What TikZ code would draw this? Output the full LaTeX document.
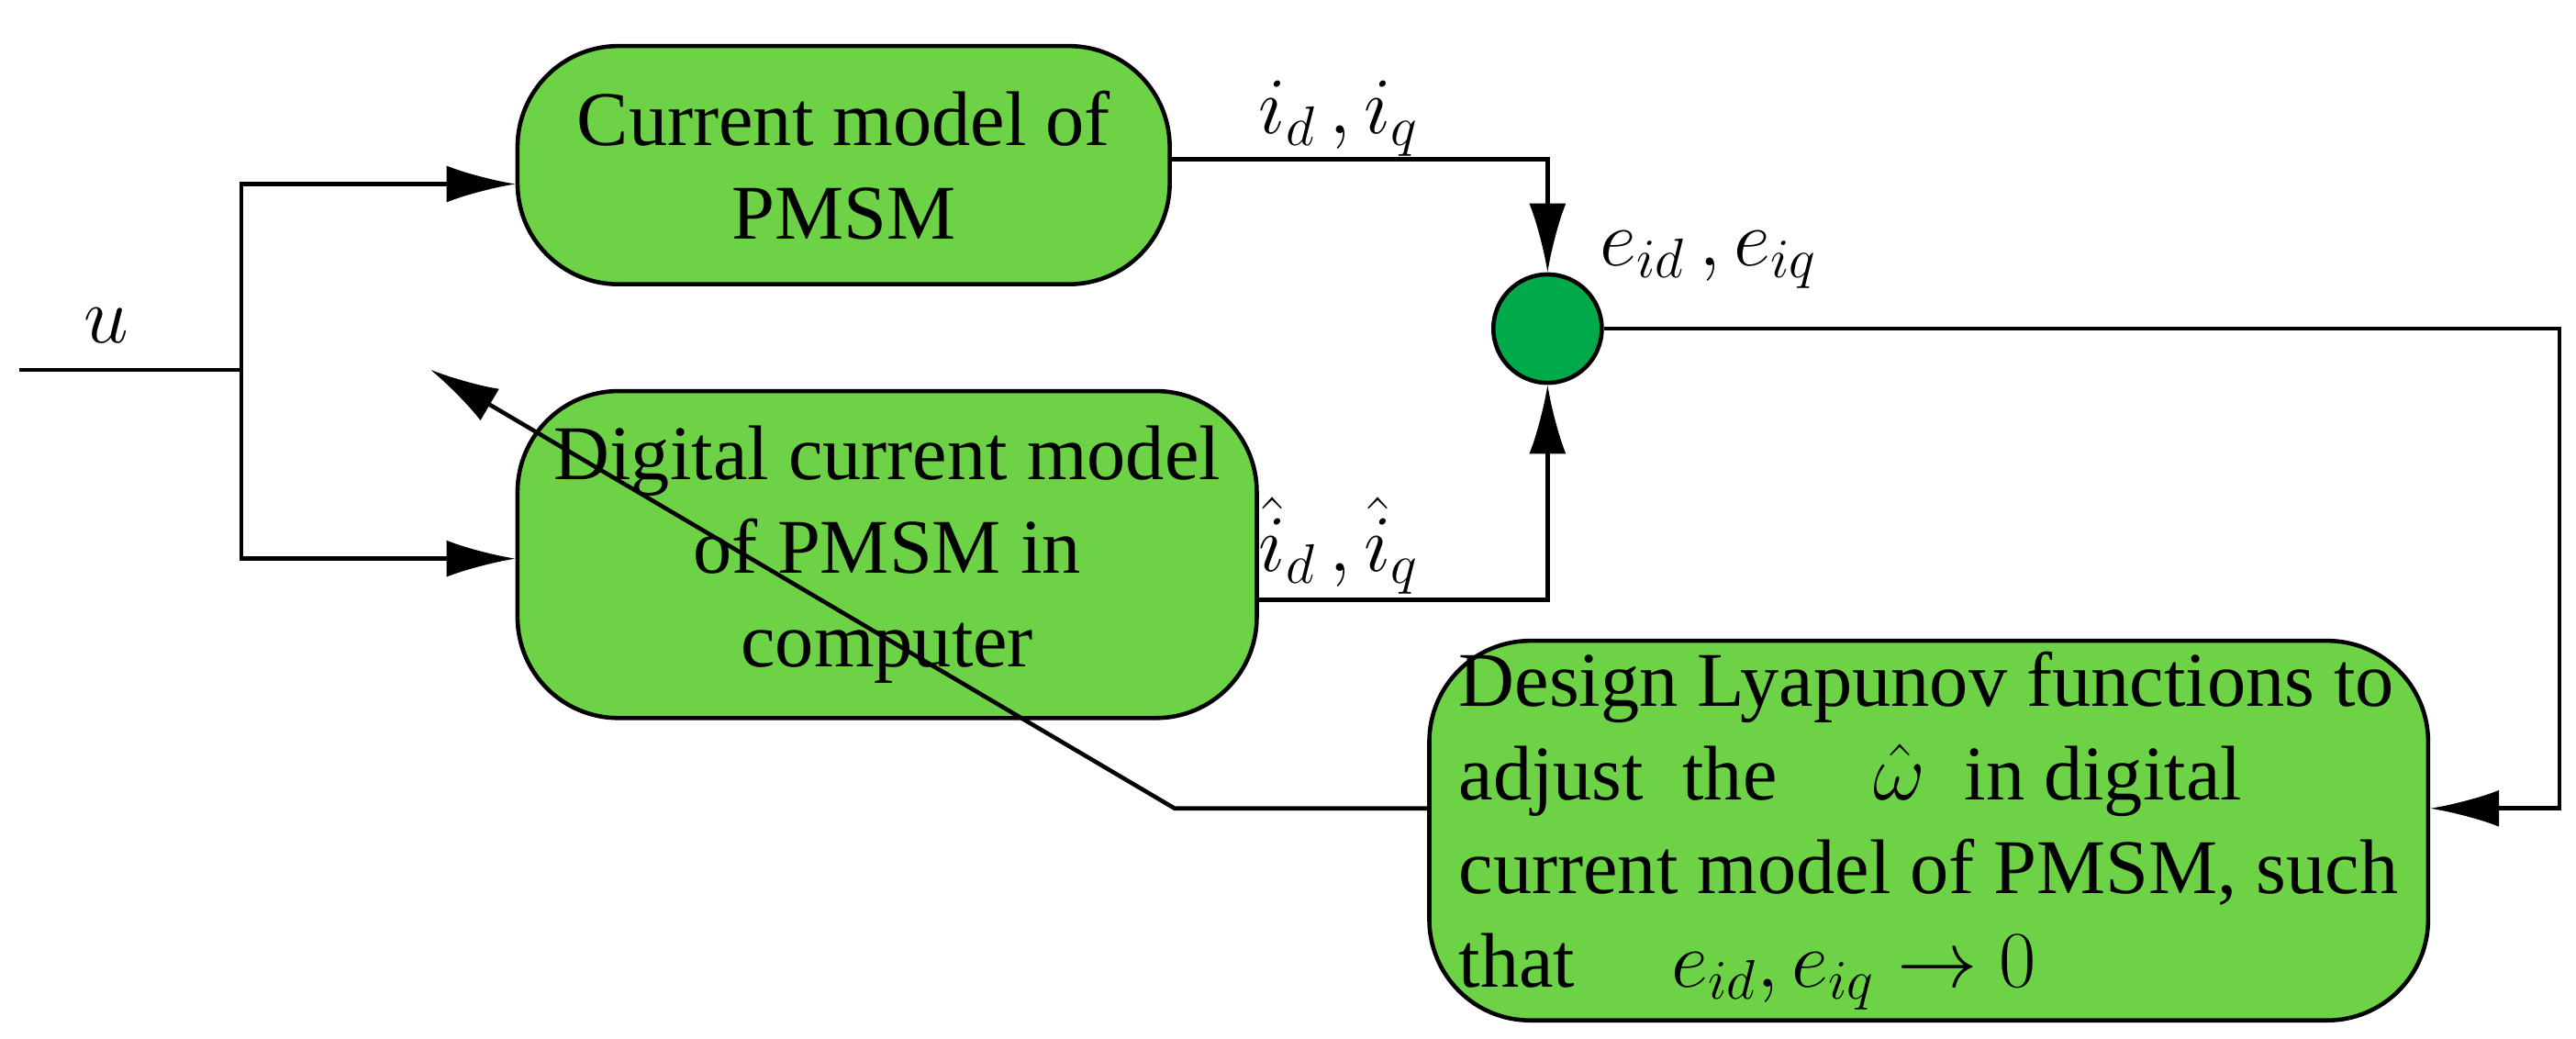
\documentclass[tikz,border=0pt]{standalone}
\usepackage{fontspec}
\setmainfont{Liberation Serif}
\usetikzlibrary{arrows.meta}
\definecolor{boxgreen}{RGB}{110,210,70}
\definecolor{sumgreen}{RGB}{0,170,75}
\tikzset{
  block/.style={draw, line width=1.3pt, fill=boxgreen, rounded corners=1.1cm, align=center, font=\fontsize{24}{29}\selectfont},
  arr/.style={-{Latex[length=0.75cm,width=0.4cm]}, line width=1.3pt},
  lbl/.style={font=\fontsize{26}{30}\selectfont}
}
\begin{document}
\begin{tikzpicture}[x=0.0179cm,y=-0.0179cm]
                \useasboundingbox (0,0) rectangle (1568,632);
                \node[block, minimum width=397*0.0179cm, minimum height=145*0.0179cm] (cur) at (513.5,100.5) {Current model of\\PMSM};
                \node[block, minimum width=450*0.0179cm, minimum height=199*0.0179cm] (dig) at (540,337.5) {Digital current model\\of PMSM in\\computer};
                \node[block, minimum width=608*0.0179cm, minimum height=225*0.0179cm, align=left] (lya) at (1174,505.5) {Design Lyapunov functions to\\adjust\ \ the \quad$\hat{\omega}$\ \ in digital\\current model of PMSM, such\\that \quad $e_{id},e_{iq}\rightarrow 0$};
                \node[circle, draw, line width=1.3pt, fill=sumgreen, minimum size=66*0.0179cm, inner sep=0pt] (sum) at (942,200) {};

                \coordinate (in) at (12,225);
                \coordinate (split) at (147,225);
                \draw[line width=1.3pt] (in) -- (split);
                \node[lbl] (u) at (65,198) {$u$};
                \draw[arr] (split) |- (cur.west |- 0,112);
                \draw[arr] (split) |- (dig.west |- 0,340);

                \draw[arr] (cur.east |- 0,97) -| (sum.north);
                \draw[arr] (dig.east |- 0,365) -| (sum.south);
                \node[lbl] (iq) at (815,72) {$i_d\,,i_q$};
                \node[lbl] (ihat) at (815,332) {$\hat{i}_d\,,\hat{i}_q$};
                \node[lbl] (eid) at (1040,158) {$e_{id}\,,e_{iq}$};

                \coordinate (rc) at (1558,200);
                \draw[arr] (sum.east) -- (rc) |- (lya.east |- 0,492);
                \coordinate (bend) at (715,492);
                \coordinate (tip) at (262,225);
                \draw[arr] (lya.west |- 0,492) -- (bend) -- (tip);
            \end{tikzpicture}
\end{document}
